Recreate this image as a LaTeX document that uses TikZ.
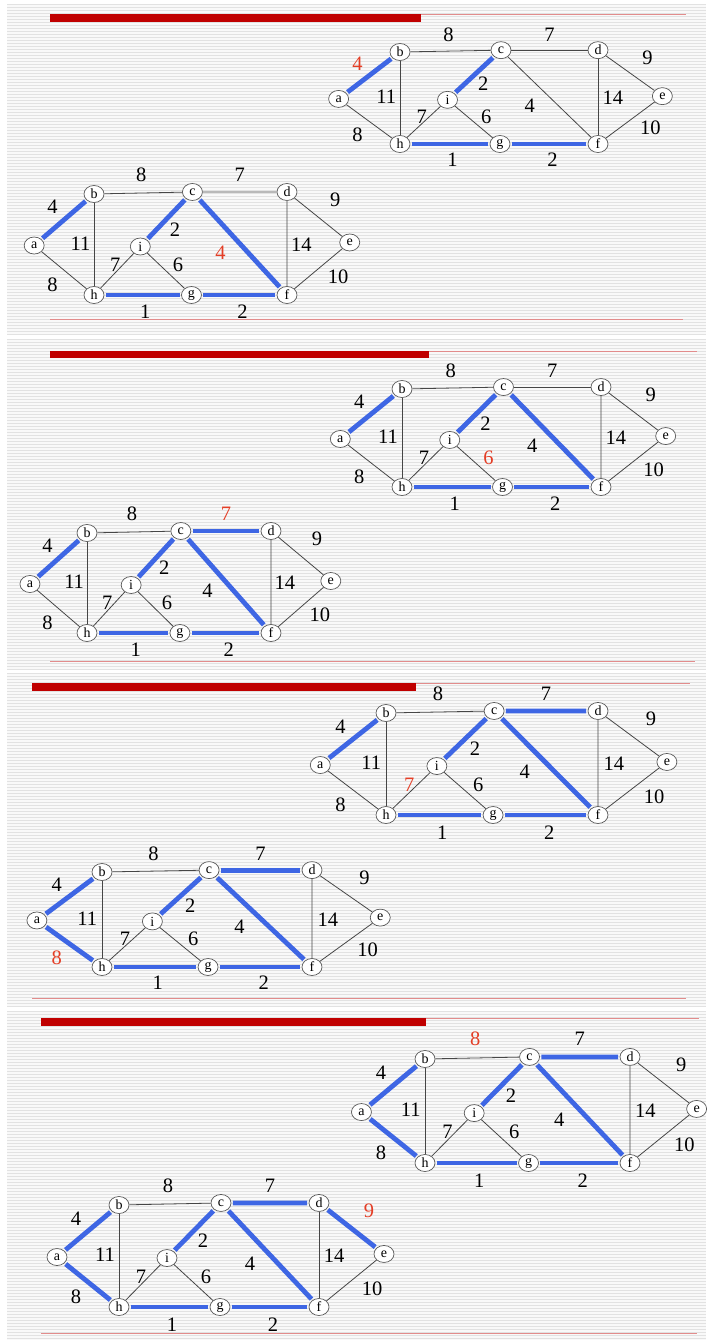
\documentclass[tikz,border=0pt]{standalone}
\usepackage{fontspec}
\setmainfont{Liberation Serif}
\usetikzlibrary{shapes.geometric}
\pgfdeclarelayer{background}
\pgfdeclarelayer{edges}
\pgfsetlayers{background,edges,main}
\definecolor{mstblue}{RGB}{62,102,228}
\definecolor{hotred}{RGB}{228,62,38}
\definecolor{edgegray}{RGB}{70,70,70}
\definecolor{barred}{RGB}{192,0,0}
\definecolor{thinred}{RGB}{226,140,140}
\definecolor{panelbg}{RGB}{249,249,249}
\definecolor{stripe}{RGB}{226,226,226}
\tikzset{
  vtx/.style={ellipse,draw=gray!70!black,line width=0.7pt,fill=white,minimum width=20pt,minimum height=17pt,inner sep=0pt,font=\fontsize{14}{14}\selectfont},
  wt/.style={font=\fontsize{20.5}{20.5}\selectfont,inner sep=0pt},
  plainedge/.style={draw=edgegray,line width=0.8pt},
  mst/.style={draw=mstblue,line width=4.8pt,shorten <=1.5pt,shorten >=1.5pt},
  hot/.style={text=hotred},
  eab/.style={plainedge}, eah/.style={plainedge}, ebc/.style={plainedge},
  ebh/.style={plainedge}, eci/.style={plainedge}, ecd/.style={plainedge},
  ecf/.style={plainedge}, ehi/.style={plainedge}, eig/.style={plainedge},
  ehg/.style={plainedge}, egf/.style={plainedge}, edf/.style={plainedge},
  ede/.style={plainedge}, eef/.style={plainedge},
  wab/.style={}, wah/.style={}, wbc/.style={}, wbh/.style={}, wci/.style={},
  wcd/.style={}, wcf/.style={}, whi/.style={}, wig/.style={}, whg/.style={},
  wgf/.style={}, wdf/.style={}, wde/.style={}, wef/.style={},
  bigbar/.style={fill=barred,draw=none},
  thinline/.style={draw=thinred,line width=0.9pt}
}
% #1 name prefix, #2 #3 position of h, #4 #5 scales, #6 local styles
\newcommand\mstgraph[6]{%
  \begin{scope}[shift={(#2,#3)},xscale=#4,yscale=#5,#6]
    \node[vtx] (#1a) at (-62,-49) {a};
    \node[vtx] (#1b) at (0,-100) {b};
    \node[vtx] (#1c) at (102,-102) {c};
    \node[vtx] (#1d) at (200,-102) {d};
    \node[vtx] (#1e) at (265,-52) {e};
    \node[vtx] (#1i) at (48,-48) {i};
    \node[vtx] (#1h) at (0,0) {h};
    \node[vtx] (#1g) at (101,0) {g};
    \node[vtx] (#1f) at (200,0) {f};
    \begin{pgfonlayer}{edges}
      \draw[eab] (#1a) -- (#1b);
      \draw[eah] (#1a) -- (#1h);
      \draw[ebc] (#1b) -- (#1c);
      \draw[ebh] (#1b) -- (#1h);
      \draw[eci] (#1c) -- (#1i);
      \draw[ecd] (#1c) -- (#1d);
      \draw[ecf] (#1c) -- (#1f);
      \draw[ehi] (#1h) -- (#1i);
      \draw[eig] (#1i) -- (#1g);
      \draw[ehg] (#1h) -- (#1g);
      \draw[egf] (#1g) -- (#1f);
      \draw[edf] (#1d) -- (#1f);
      \draw[ede] (#1d) -- (#1e);
      \draw[eef] (#1e) -- (#1f);
    \end{pgfonlayer}
    \node[wt,wbc] (#1Wbc) at (49,-119) {8};
    \node[wt,wcd] (#1Wcd) at (151,-119) {7};
    \node[wt,wab] (#1Wab) at (-43,-87) {4};
    \node[wt,wci] (#1Wci) at (84,-65) {2};
    \node[wt,wbh] (#1Wbh) at (-14,-51) {11};
    \node[wt,wcf] (#1Wcf) at (131,-42) {4};
    \node[wt,wdf] (#1Wdf) at (215,-50) {14};
    \node[wt,wde] (#1Wde) at (250,-94) {9};
    \node[wt,whi] (#1Whi) at (22,-30) {7};
    \node[wt,wig] (#1Wig) at (87,-30) {6};
    \node[wt,wah] (#1Wah) at (-43,-10) {8};
    \node[wt,wef] (#1Wef) at (253,-18) {10};
    \node[wt,whg] (#1Whg) at (53,17) {1};
    \node[wt,wgf] (#1Wgf) at (154,17) {2};
  \end{scope}}
% panel background: #1 #2 top-left, #3 #4 bottom-right
\newcommand\slidepanel[4]{%
  \begin{pgfonlayer}{background}
    \begin{scope}
      \clip (#1,#2) rectangle (#3,#4);
      \fill[panelbg] (#1,#2) rectangle (#3,#4);
      \foreach \yy in {#2,\the\numexpr#2+3\relax,...,#4}
        \draw[stripe,line width=0.9pt] (#1,\yy) -- (#3,\yy);
    \end{scope}
  \end{pgfonlayer}}
\begin{document}
\begin{tikzpicture}[x=1pt,y=-1pt]
  \useasboundingbox (0,0) rectangle (710,1340);
  \begin{pgfonlayer}{background}
    \fill[white] (0,0) rectangle (710,1340);
  \end{pgfonlayer}
  % panels
  \slidepanel{7}{4}{706}{334}
  \slidepanel{7}{339}{706}{669}
  \slidepanel{7}{673}{706}{1006}
  \slidepanel{7}{1011}{706}{1340}
  % panel 1 bars
  \draw[thinline] (50,14.5) -- (686,14.5);
  \fill[bigbar] (50,14) rectangle (421,22);
  \draw[thinline] (50,319) -- (683,319);
  % panel 2 bars
  \draw[thinline] (50,351.5) -- (697,351.5);
  \fill[bigbar] (50,351) rectangle (429,358);
  \draw[thinline] (50,661) -- (695,661);
  % panel 3 bars
  \draw[thinline] (32,683.5) -- (690,683.5);
  \fill[bigbar] (32,683) rectangle (416,691);
  \draw[thinline] (32,998) -- (686,998);
  % panel 4 bars
  \draw[thinline] (41,1018.5) -- (699,1018.5);
  \fill[bigbar] (41,1018) rectangle (426,1026);
  \draw[thinline] (41,1333) -- (697,1333);
  % graphs
  \mstgraph{Pa}{400}{144}{0.99}{0.92}{eab/.style={mst},eci/.style={mst},ehg/.style={mst},egf/.style={mst},wab/.style={hot}}
  \mstgraph{Pb}{94}{295}{0.965}{1.01}{eab/.style={mst},eci/.style={mst},ehg/.style={mst},egf/.style={mst},ecf/.style={mst},wcf/.style={hot}}
  \mstgraph{Pc}{402}{487}{0.995}{0.98}{eab/.style={mst},eci/.style={mst},ehg/.style={mst},egf/.style={mst},ecf/.style={mst},wig/.style={hot}}
  \mstgraph{Pd}{87}{633}{0.92}{1.0}{eab/.style={mst},eci/.style={mst},ehg/.style={mst},egf/.style={mst},ecf/.style={mst},ecd/.style={mst},wcd/.style={hot}}
  \mstgraph{Pe}{386}{815}{1.06}{1.02}{eab/.style={mst},eci/.style={mst},ehg/.style={mst},egf/.style={mst},ecf/.style={mst},ecd/.style={mst},whi/.style={hot}}
  \mstgraph{Pf}{102}{967}{1.05}{0.95}{eab/.style={mst},eci/.style={mst},ehg/.style={mst},egf/.style={mst},ecf/.style={mst},ecd/.style={mst},eah/.style={mst},wah/.style={hot}}
  \mstgraph{Pg}{425}{1163}{1.025}{1.04}{eab/.style={mst},eci/.style={mst},ehg/.style={mst},egf/.style={mst},ecf/.style={mst},ecd/.style={mst},eah/.style={mst},wbc/.style={hot}}
  \mstgraph{Ph}{119}{1307}{1.0}{1.02}{eab/.style={mst},eci/.style={mst},ehg/.style={mst},egf/.style={mst},ecf/.style={mst},ecd/.style={mst},eah/.style={mst},ede/.style={mst},wde/.style={hot}}
\end{tikzpicture}
\end{document}
